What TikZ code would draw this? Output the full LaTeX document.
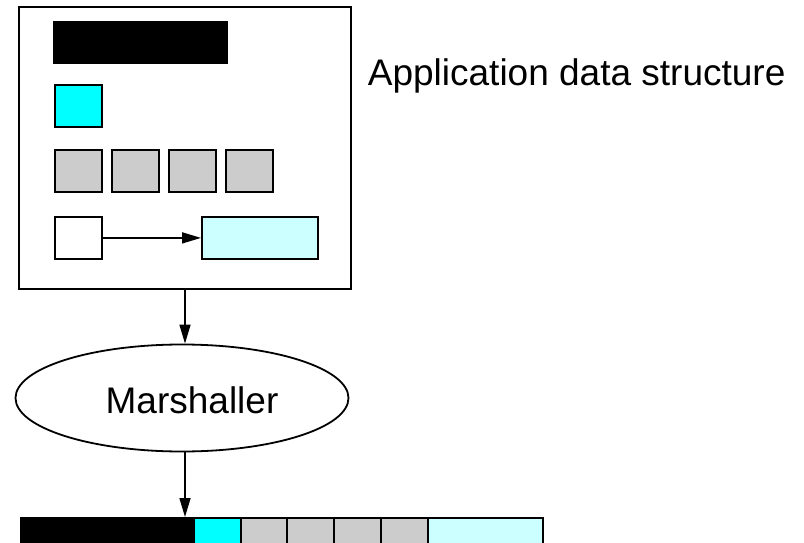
\documentclass[tikz,border=0pt]{standalone}
\usepackage{fontspec}
\setmainfont{Liberation Sans}
\usetikzlibrary{arrows.meta,shapes.geometric}
\definecolor{cyanfill}{RGB}{0,255,255}
\definecolor{greyfill}{RGB}{204,204,204}
\definecolor{palecyan}{RGB}{204,255,255}
\begin{document}
\begin{tikzpicture}[x=1pt,y=-1pt,line width=1.8pt,
  cell/.style={draw=black,rectangle,inner sep=0pt,anchor=north west},
  sq/.style={cell,minimum width=47pt,minimum height=42pt},
  strip/.style={cell,minimum height=30pt},
  arr/.style={-{Triangle[length=19pt,width=11pt]},line width=1.6pt}]
\clip (0,0) rectangle (804,543);
\useasboundingbox (0,0) rectangle (804,543);

% application data structure
\node[cell,minimum width=332pt,minimum height=282pt,line width=2pt] (box) at (18,6) {};
\node[cell,fill=black,minimum width=173pt,minimum height=41pt] (bar) at (53,21) {};
\node[sq,fill=cyanfill] (c1) at (54,84) {};
\node[sq,fill=greyfill] (g1) at (54,149) {};
\node[sq,fill=greyfill] (g2) at (111,149) {};
\node[sq,fill=greyfill] (g3) at (168,149) {};
\node[sq,fill=greyfill] (g4) at (225,149) {};
\node[sq,fill=white] (ptr) at (54,216) {};
\node[cell,fill=palecyan,minimum width=116pt,minimum height=42pt] (tgt) at (201,216) {};
\draw[arr] (ptr.east) -- (tgt.west);

\node[anchor=base west,inner sep=0pt,font=\fontsize{37}{44}\selectfont] (lbl) at (367,85) {Application data structure};

% marshaller
\node[draw,ellipse,inner sep=0pt,minimum width=333pt,minimum height=107pt] (mar) at (182,398) {};
\node[anchor=base,inner sep=0pt,font=\fontsize{37}{44}\selectfont] (martxt) at (192,413) {Marshaller};
\draw[arr] (box.south) -- (box.south |- mar.north);

% marshalled byte stream
\node[strip,fill=black,minimum width=173pt] (s1) at (20,517) {};
\node[strip,fill=cyanfill,minimum width=47pt] (s2) at (193,517) {};
\node[strip,fill=greyfill,minimum width=46pt] (s3) at (240,517) {};
\node[strip,fill=greyfill,minimum width=47pt] (s4) at (286,517) {};
\node[strip,fill=greyfill,minimum width=47pt] (s5) at (333,517) {};
\node[strip,fill=greyfill,minimum width=47pt] (s6) at (380,517) {};
\node[strip,fill=palecyan,minimum width=115pt] (s7) at (427,517) {};
\coordinate (drop) at (box.south |- s1.north);
\draw[arr] (box.south |- mar.south) -- (drop);
\end{tikzpicture}
\end{document}
